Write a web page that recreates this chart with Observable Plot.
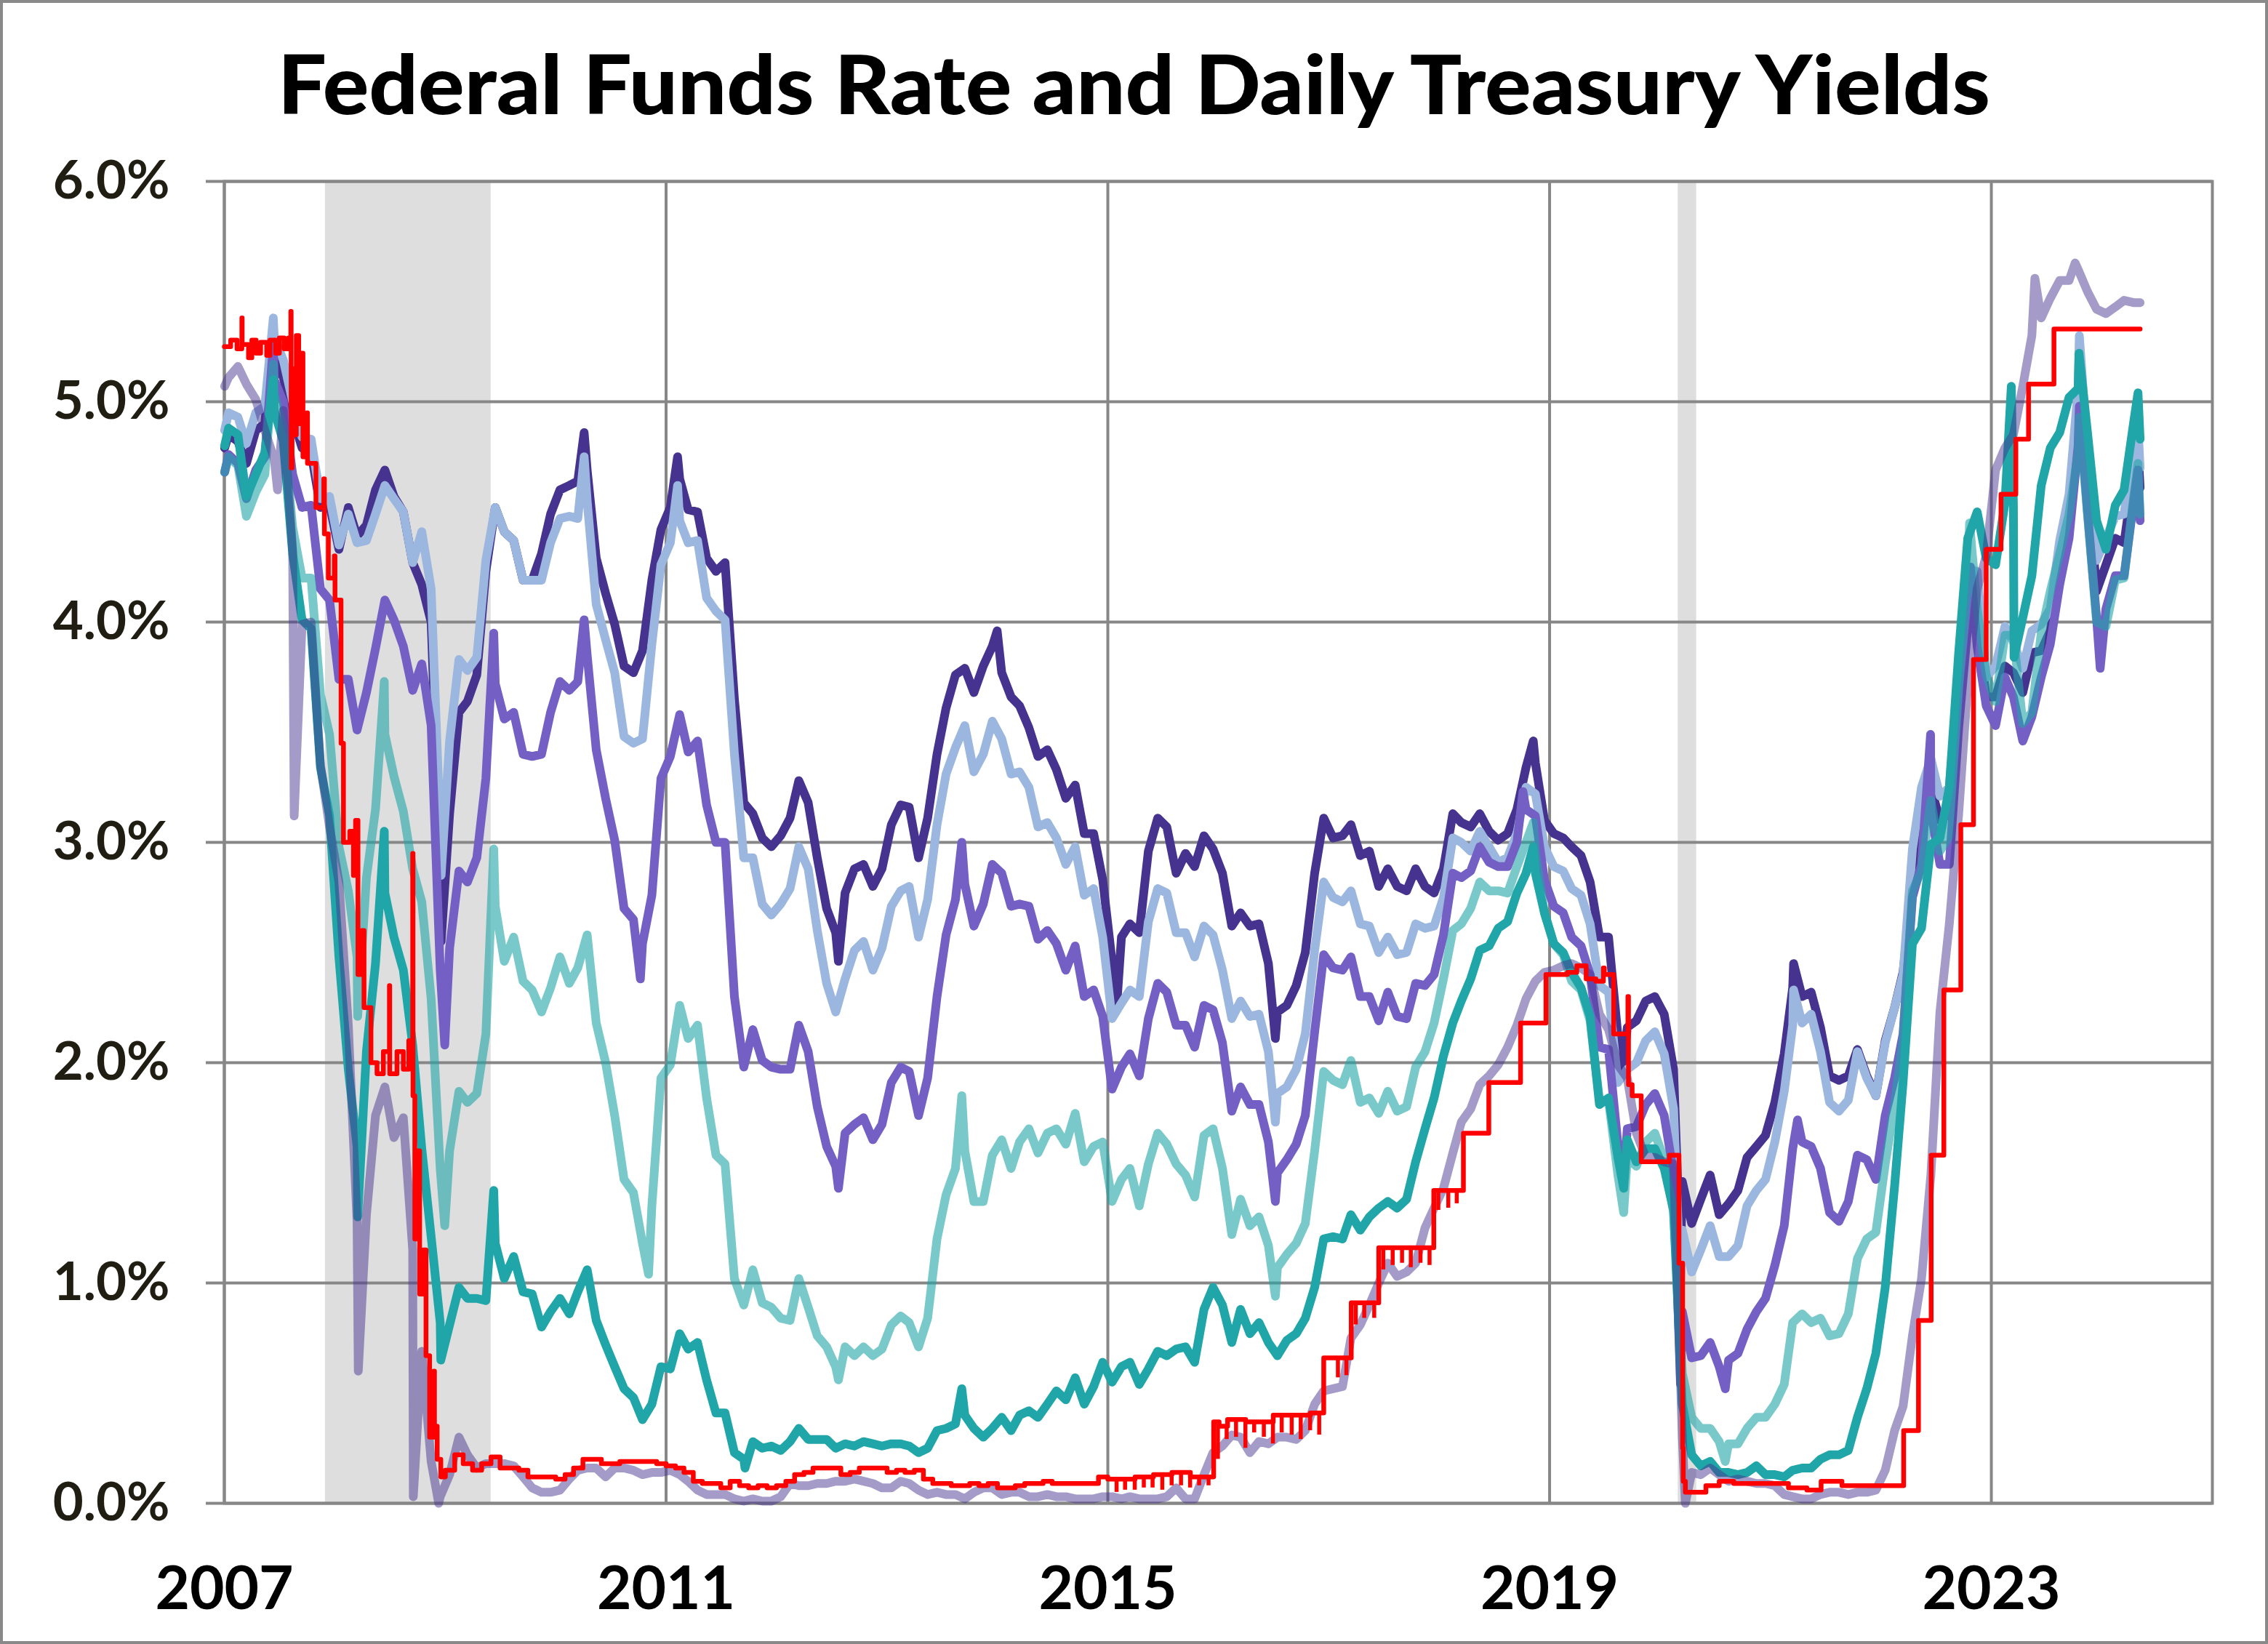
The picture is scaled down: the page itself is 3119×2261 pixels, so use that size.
<!DOCTYPE html>
<html>
<head>
<meta charset="utf-8">
<script src="https://cdn.jsdelivr.net/npm/d3@7"></script>
<script src="https://cdn.jsdelivr.net/npm/@observablehq/plot@0.6"></script>
<style>
  html, body { margin:0; padding:0; background:#fff; width:3119px; height:2261px; overflow:hidden; }
  #page { position:relative; width:3119px; height:2261px; background:#fff; }
  #border { position:absolute; left:0; top:0; width:3119px; height:2261px; box-sizing:border-box; border:4px solid #898989; pointer-events:none; }
  #title, #chart svg { display:block; }
</style>
</head>
<body>
<div id="page">
  <svg id="title" width="3119" height="200">
    <text x="1559.5" y="157" text-anchor="middle" font-family="Lato, 'Open Sans', sans-serif" font-weight="900" font-size="112" fill="#000" textLength="2355" lengthAdjust="spacingAndGlyphs">Federal Funds Rate and Daily Treasury Yields</text>
  </svg>
  <div id="chart"></div>
  <div id="border"></div>
</div>
<script>
// ---------------- DATA ----------------
// Monthly levels (mid-month), Jan 2007 .. Apr 2024
const t30 = [
4.85,4.82,4.72,4.87,4.90,5.20,5.11,4.93,4.79,4.77,4.52,4.53,
4.33,4.52,4.39,4.44,4.60,4.69,4.57,4.50,4.27,4.17,4.00,2.87,
3.13,3.59,3.64,3.76,4.23,4.52,4.41,4.37,4.19,4.19,4.31,4.49,
4.60,4.62,4.64,4.69,4.29,4.13,3.99,3.80,3.77,3.87,4.19,4.42,
4.52,4.65,4.51,4.50,4.29,4.23,4.27,3.65,3.18,3.13,3.02,2.98,
3.03,3.11,3.28,3.18,2.93,2.70,2.59,2.77,2.88,2.90,2.80,2.88,
3.08,3.17,3.16,2.93,3.11,3.40,3.61,3.76,3.79,3.68,3.80,3.89,
3.77,3.66,3.62,3.52,3.39,3.42,3.33,3.20,3.26,3.04,3.04,2.83,
2.46,2.57,2.63,2.59,2.96,3.11,3.07,2.86,2.95,2.89,3.03,2.97,
2.86,2.62,2.68,2.62,2.63,2.45,2.23,2.26,2.35,2.50,2.86,3.11,
3.02,3.03,3.08,2.94,2.96,2.80,2.88,2.80,2.78,2.88,2.80,2.77,
2.88,3.13,3.09,3.07,3.13,3.05,3.01,3.04,3.15,3.34,3.36,3.10,
3.04,3.02,2.98,2.94,2.82,2.57,2.57,2.12,2.16,2.19,2.28,2.30,
2.22,1.97,1.46,1.27,1.38,1.49,1.31,1.36,1.42,1.57,1.62,1.67,
1.82,2.04,2.34,2.30,2.32,2.16,1.94,1.92,1.94,2.06,1.94,1.85,
2.10,2.25,2.41,2.81,3.07,3.25,3.10,3.13,3.56,4.04,4.00,3.66,
3.66,3.80,3.77,3.68,3.86,3.87,3.96,4.28,4.47,4.95,4.66,4.14,
4.26,4.38,4.36,4.66];
const t20 = [
4.95,4.93,4.81,4.95,4.98,5.29,5.19,5.00,4.84,4.83,4.56,4.57,
4.35,4.49,4.36,4.37,4.49,4.62,4.56,4.50,4.27,4.41,4.15,3.06,
3.46,3.83,3.78,3.84,4.28,4.52,4.41,4.37,4.19,4.19,4.19,4.36,
4.47,4.48,4.47,4.55,4.08,3.92,3.77,3.48,3.45,3.47,3.90,4.26,
4.36,4.46,4.36,4.37,4.11,4.05,4.01,3.40,2.93,2.93,2.72,2.67,
2.72,2.79,2.98,2.88,2.60,2.36,2.23,2.38,2.51,2.55,2.42,2.52,
2.71,2.78,2.80,2.57,2.74,3.08,3.31,3.43,3.53,3.32,3.40,3.55,
3.47,3.31,3.32,3.25,3.07,3.09,3.02,2.90,2.98,2.76,2.79,2.57,
2.20,2.27,2.33,2.30,2.64,2.79,2.77,2.59,2.59,2.48,2.62,2.58,
2.42,2.20,2.28,2.21,2.22,2.05,1.86,1.89,1.97,2.13,2.51,2.82,
2.75,2.73,2.78,2.63,2.62,2.50,2.57,2.49,2.50,2.63,2.61,2.62,
2.75,3.02,3.00,2.96,3.05,2.98,2.91,2.93,3.04,3.25,3.22,2.98,
2.89,2.87,2.79,2.76,2.63,2.35,2.32,1.91,1.97,2.00,2.10,2.14,
2.04,1.79,1.24,1.05,1.15,1.26,1.12,1.12,1.17,1.35,1.42,1.47,
1.64,1.87,2.17,2.18,2.22,2.05,1.82,1.78,1.83,2.05,1.93,1.85,
2.09,2.25,2.40,2.97,3.25,3.38,3.21,3.25,3.76,4.24,4.23,3.75,
3.80,3.98,3.91,3.79,3.96,3.99,4.06,4.37,4.58,5.06,4.78,4.28,
4.38,4.48,4.49,4.79];
const t10 = [
4.76,4.72,4.56,4.69,4.75,5.10,5.00,4.67,4.52,4.53,4.15,4.10,
3.74,3.74,3.51,3.68,3.88,4.10,4.01,3.89,3.69,3.81,3.53,2.42,
2.52,2.87,2.82,2.93,3.29,3.72,3.56,3.59,3.40,3.39,3.40,3.59,
3.73,3.69,3.73,3.85,3.42,3.20,3.01,2.70,2.65,2.54,2.76,3.29,
3.39,3.58,3.41,3.46,3.17,3.00,3.00,2.30,1.98,2.15,2.01,1.98,
1.97,1.97,2.17,2.05,1.80,1.62,1.53,1.68,1.72,1.75,1.65,1.72,
1.91,1.98,1.96,1.76,1.93,2.30,2.58,2.74,2.81,2.62,2.72,2.90,
2.86,2.71,2.72,2.71,2.56,2.60,2.54,2.42,2.53,2.30,2.33,2.21,
1.88,1.98,2.04,1.94,2.20,2.36,2.32,2.17,2.17,2.07,2.26,2.24,
2.09,1.78,1.89,1.81,1.81,1.64,1.50,1.56,1.63,1.76,2.14,2.49,
2.43,2.42,2.48,2.30,2.30,2.19,2.32,2.21,2.20,2.36,2.35,2.40,
2.58,2.86,2.84,2.87,2.98,2.91,2.89,2.89,3.00,3.15,3.12,2.83,
2.71,2.68,2.57,2.53,2.40,2.07,2.06,1.63,1.70,1.71,1.81,1.86,
1.76,1.50,0.87,0.66,0.67,0.73,0.62,0.65,0.68,0.79,0.87,0.93,
1.08,1.26,1.61,1.64,1.62,1.52,1.32,1.28,1.37,1.58,1.56,1.47,
1.76,1.93,2.13,2.75,2.90,3.14,2.90,2.90,3.52,3.98,3.89,3.62,
3.53,3.75,3.66,3.46,3.57,3.75,3.90,4.17,4.38,4.80,4.50,4.02,
4.06,4.21,4.21,4.54];
const t5 = [
4.75,4.71,4.48,4.59,4.67,5.03,4.88,4.43,4.20,4.20,3.67,3.49,
2.98,2.78,2.48,2.84,3.15,3.49,3.30,3.14,2.88,2.73,2.29,1.52,
1.60,1.87,1.82,1.86,2.13,2.71,2.46,2.57,2.37,2.33,2.23,2.34,
2.48,2.36,2.43,2.58,2.18,2.00,1.76,1.47,1.41,1.18,1.35,1.93,
1.99,2.26,2.11,2.17,1.84,1.58,1.54,1.02,0.90,1.06,0.91,0.89,
0.84,0.83,1.02,0.89,0.76,0.71,0.62,0.71,0.67,0.71,0.67,0.70,
0.81,0.85,0.82,0.71,0.84,1.20,1.40,1.52,1.60,1.37,1.37,1.58,
1.65,1.52,1.64,1.70,1.59,1.68,1.70,1.63,1.77,1.55,1.62,1.64,
1.37,1.47,1.52,1.35,1.54,1.68,1.63,1.54,1.49,1.39,1.67,1.70,
1.52,1.22,1.38,1.26,1.30,1.17,1.07,1.13,1.18,1.27,1.60,1.96,
1.92,1.90,2.01,1.82,1.84,1.77,1.87,1.78,1.80,1.98,2.05,2.18,
2.38,2.60,2.63,2.70,2.82,2.78,2.78,2.77,2.89,3.00,2.95,2.68,
2.54,2.49,2.37,2.33,2.19,1.83,1.83,1.49,1.57,1.53,1.64,1.68,
1.56,1.32,0.59,0.39,0.34,0.34,0.28,0.27,0.27,0.34,0.39,0.39,
0.45,0.54,0.82,0.86,0.82,0.84,0.76,0.77,0.86,1.11,1.20,1.23,
1.54,1.81,2.11,2.78,2.87,3.19,2.96,3.03,3.70,4.18,4.06,3.76,
3.64,3.94,3.94,3.54,3.59,3.95,4.14,4.31,4.49,4.77,4.49,4.00,
3.98,4.19,4.20,4.56];
const t2 = [
4.88,4.85,4.57,4.67,4.77,4.96,4.82,4.31,4.01,3.97,3.34,3.12,
2.48,1.97,1.62,2.05,2.45,2.77,2.57,2.42,2.08,1.61,1.21,0.82,
0.81,0.98,0.93,0.93,0.92,1.18,1.02,1.12,0.96,0.95,0.80,0.87,
0.93,0.86,0.96,1.06,0.83,0.72,0.62,0.52,0.48,0.38,0.45,0.62,
0.61,0.77,0.70,0.73,0.56,0.41,0.41,0.23,0.20,0.28,0.25,0.26,
0.24,0.28,0.34,0.29,0.29,0.29,0.25,0.27,0.26,0.28,0.27,0.26,
0.27,0.27,0.26,0.23,0.25,0.33,0.34,0.36,0.40,0.34,0.30,0.34,
0.39,0.33,0.40,0.42,0.39,0.45,0.51,0.47,0.57,0.45,0.53,0.64,
0.55,0.62,0.64,0.54,0.61,0.69,0.67,0.70,0.71,0.64,0.88,0.98,
0.90,0.73,0.88,0.77,0.82,0.73,0.67,0.74,0.77,0.84,0.98,1.20,
1.21,1.20,1.31,1.24,1.30,1.34,1.37,1.34,1.38,1.55,1.70,1.84,
2.03,2.18,2.28,2.38,2.51,2.53,2.61,2.64,2.77,2.86,2.86,2.68,
2.54,2.50,2.41,2.34,2.21,1.81,1.84,1.57,1.65,1.55,1.61,1.61,
1.52,1.33,0.45,0.22,0.17,0.19,0.14,0.14,0.13,0.14,0.17,0.13,
0.13,0.12,0.15,0.16,0.16,0.20,0.22,0.22,0.24,0.39,0.52,0.68,
0.98,1.44,1.91,2.54,2.61,2.99,3.02,3.25,3.86,4.38,4.50,4.29,
4.26,4.54,4.53,4.02,4.21,4.62,4.79,4.86,5.02,5.06,4.86,4.46,
4.33,4.53,4.60,4.90];
const t3m = [
5.11,5.16,5.08,5.01,4.87,4.74,4.96,4.32,3.99,4.00,3.35,3.07,
2.82,2.17,1.28,1.31,1.76,1.89,1.66,1.75,1.15,0.69,0.19,0.03,
0.13,0.30,0.22,0.16,0.18,0.18,0.18,0.17,0.12,0.07,0.05,0.05,
0.06,0.11,0.15,0.16,0.16,0.12,0.16,0.16,0.15,0.13,0.14,0.14,
0.15,0.13,0.10,0.06,0.04,0.04,0.04,0.02,0.01,0.02,0.01,0.01,
0.03,0.09,0.08,0.08,0.09,0.09,0.10,0.10,0.11,0.10,0.09,0.07,
0.07,0.10,0.09,0.06,0.04,0.05,0.04,0.04,0.02,0.05,0.07,0.07,
0.04,0.05,0.05,0.03,0.03,0.04,0.03,0.03,0.02,0.02,0.02,0.03,
0.03,0.02,0.03,0.02,0.02,0.02,0.03,0.07,0.02,0.02,0.13,0.23,
0.26,0.31,0.30,0.23,0.28,0.27,0.30,0.30,0.29,0.33,0.45,0.51,
0.52,0.53,0.75,0.81,0.90,1.00,1.09,1.03,1.05,1.09,1.25,1.34,
1.43,1.59,1.73,1.79,1.90,1.94,1.99,2.07,2.17,2.29,2.37,2.41,
2.42,2.44,2.45,2.43,2.40,2.22,2.15,1.99,1.93,1.68,1.57,1.57,
1.55,1.54,0.30,0.14,0.13,0.16,0.13,0.10,0.11,0.10,0.09,0.09,
0.08,0.04,0.03,0.02,0.02,0.04,0.05,0.05,0.04,0.05,0.05,0.06,
0.15,0.33,0.44,0.76,1.02,1.49,2.23,2.63,3.13,3.72,4.15,4.30,
4.69,4.79,4.85,5.07,5.30,5.38,5.47,5.55,5.55,5.60,5.50,5.42,
5.40,5.43,5.46,5.45];

// Individual daily readings (extremes, first and last days)
const t30x = [["2007-01-02",4.79],["2007-06-12",5.35],["2008-12-18",2.55],["2010-04-05",4.86],["2011-02-08",4.75],["2012-07-24",2.46],["2013-12-31",3.96],["2015-01-30",2.25],["2016-07-08",2.11],["2018-11-08",3.46],["2019-08-28",1.94],["2020-03-09",1.10],["2021-03-18",2.45],["2023-10-19",5.11],["2024-04-30",4.79],["2024-05-07",4.61]];
const t20x = [["2007-01-02",4.87],["2007-06-12",5.38],["2008-12-18",2.85],["2010-04-05",4.75],["2011-02-08",4.62],["2016-07-08",1.73],["2020-03-09",0.99],["2021-03-18",2.33],["2023-10-19",5.30],["2024-04-30",4.89],["2024-05-07",4.70]];
const t10x = [["2007-01-02",4.68],["2007-06-12",5.26],["2008-12-30",2.08],["2009-06-10",3.95],["2010-04-05",4.01],["2010-10-08",2.38],["2012-07-24",1.43],["2013-09-05",3.00],["2016-07-08",1.37],["2018-10-05",3.23],["2019-09-03",1.47],["2020-03-09",0.54],["2020-08-04",0.52],["2021-03-31",1.74],["2022-06-14",3.49],["2022-10-24",4.25],["2023-10-19",4.98],["2023-12-27",3.79],["2024-04-30",4.69],["2024-05-07",4.46]];
const t5x = [["2007-01-02",4.68],["2007-06-12",5.17],["2008-03-17",2.21],["2008-06-13",3.73],["2008-12-30",1.26],["2009-06-10",2.97],["2010-11-04",1.04],["2012-07-24",0.56],["2013-09-05",1.85],["2016-07-08",0.94],["2018-11-08",3.09],["2019-09-03",1.32],["2020-08-04",0.19],["2022-10-21",4.45],["2023-10-19",4.93],["2024-04-30",4.72],["2024-05-07",4.49]];
const t2x = [["2007-01-02",4.80],["2007-06-12",5.10],["2008-03-17",1.30],["2008-06-13",3.05],["2008-12-17",0.65],["2009-06-10",1.42],["2011-09-19",0.16],["2013-09-05",0.52],["2018-11-08",2.98],["2019-09-03",1.43],["2023-03-08",5.07],["2023-03-17",3.84],["2023-10-18",5.22],["2024-04-30",5.04],["2024-05-07",4.83]];
const t3mx = [["2007-01-02",5.07],["2007-06-26",4.60],["2007-08-20",3.12],["2008-03-19",0.60],["2008-09-17",0.03],["2008-12-10",0.00],["2020-03-25",0.00],["2023-05-25",5.56],["2023-10-05",5.63],["2024-05-07",5.45]];

// Effective federal funds rate: step changes 2007-2008
const ffEarly = [["2007-01-01",5.25],["2007-01-22",5.28],["2007-02-12",5.24],["2007-02-28",5.38],["2007-03-01",5.26],["2007-03-22",5.20],["2007-04-02",5.28],["2007-04-16",5.22],["2007-05-01",5.27],["2007-05-21",5.21],["2007-06-01",5.28],["2007-06-20",5.22],["2007-07-02",5.29],["2007-07-18",5.24],["2007-08-01",5.29],["2007-08-09",5.41],["2007-08-10",4.70],["2007-08-13",5.15],["2007-08-20",4.85],["2007-08-27",5.30],["2007-09-04",4.90],["2007-09-10",5.22],["2007-09-18",4.75],["2007-10-01",4.95],["2007-10-03",4.72],["2007-10-31",4.52],["2007-11-26",4.65],["2007-11-28",4.40],["2007-12-11",4.20],["2007-12-31",4.30],["2008-01-02",4.10],["2008-01-22",3.45],["2008-01-30",3.00],["2008-02-20",3.05],["2008-03-03",2.85],["2008-03-10",3.10],["2008-03-18",2.40],["2008-03-31",2.60],["2008-04-07",2.25],["2008-04-30",2.00],["2008-05-20",1.95],["2008-06-10",2.05],["2008-06-30",2.35],["2008-07-01",1.95],["2008-07-25",2.05],["2008-08-15",1.97],["2008-09-02",2.10],["2008-09-15",2.95],["2008-09-16",1.85],["2008-09-22",1.20],["2008-09-30",1.60],["2008-10-08",0.95],["2008-10-20",1.15],["2008-10-29",0.67],["2008-11-10",0.30],["2008-11-24",0.60],["2008-11-26",0.35],["2008-12-05",0.20],["2008-12-17",0.12]];
// monthly levels Jan 2009 .. Nov 2015
const ffMonthly = [
0.15,0.22,0.18,0.15,0.18,0.21,0.16,0.16,0.15,0.12,0.12,0.12,
0.11,0.13,0.16,0.20,0.20,0.18,0.18,0.19,0.19,0.19,0.19,0.18,
0.17,0.16,0.14,0.10,0.09,0.09,0.07,0.10,0.08,0.07,0.08,0.07,
0.08,0.10,0.13,0.14,0.16,0.16,0.16,0.13,0.14,0.16,0.16,0.16,
0.14,0.15,0.14,0.15,0.11,0.09,0.09,0.08,0.08,0.09,0.08,0.09,
0.07,0.07,0.08,0.09,0.09,0.10,0.09,0.09,0.09,0.09,0.09,0.12,
0.11,0.11,0.11,0.12,0.12,0.13,0.13,0.14,0.14,0.12,0.12];
const ffLate = [["2015-12-17",0.37],["2016-01-04",0.35],["2016-02-01",0.38],["2016-04-01",0.37],["2016-07-01",0.40],["2016-11-01",0.41],["2016-12-15",0.66],["2017-03-16",0.91],["2017-06-15",1.16],["2017-12-14",1.42],["2018-03-22",1.68],["2018-06-14",1.91],["2018-09-27",2.18],["2018-12-20",2.40],["2019-03-01",2.41],["2019-04-01",2.44],["2019-05-02",2.38],["2019-06-03",2.37],["2019-06-28",2.43],["2019-07-01",2.40],["2019-08-01",2.13],["2019-09-17",2.30],["2019-09-19",1.90],["2019-10-01",1.85],["2019-10-31",1.55],["2020-02-01",1.58],["2020-03-04",1.09],["2020-03-16",0.25],["2020-03-18",0.10],["2020-03-25",0.05],["2020-06-01",0.08],["2020-07-15",0.10],["2020-09-01",0.09],["2021-03-01",0.07],["2021-05-01",0.06],["2021-06-17",0.10],["2021-08-25",0.08],["2022-03-17",0.33],["2022-05-05",0.83],["2022-06-16",1.58],["2022-07-28",2.33],["2022-09-22",3.08],["2022-11-03",3.83],["2022-12-15",4.33],["2023-02-02",4.58],["2023-03-23",4.83],["2023-05-04",5.08],["2023-07-27",5.33],["2024-05-07",5.33]];
// month-end dips of the effective rate
const ffDips = [["2015-01-30",0.05],["2015-02-27",0.06],["2015-03-31",0.06],["2015-04-30",0.07],["2015-05-29",0.07],["2015-06-30",0.06],["2015-07-31",0.08],["2015-08-31",0.08],["2015-09-30",0.07],["2015-10-30",0.08],["2015-11-30",0.08],
["2015-12-31",0.20],["2016-01-29",0.29],["2016-02-29",0.30],["2016-03-31",0.25],["2016-04-29",0.32],["2016-05-31",0.30],["2016-06-30",0.27],["2016-07-29",0.32],["2016-08-31",0.31],["2016-09-30",0.29],["2016-10-31",0.33],["2016-11-30",0.31],
["2017-01-31",0.57],["2017-02-28",0.58],["2017-03-31",0.81],["2017-04-28",0.84],["2017-05-31",0.84],["2017-06-30",1.06],["2017-07-31",1.08],["2017-08-31",1.09],["2017-09-29",1.07],["2017-10-31",1.09],["2017-11-30",1.08],["2017-12-29",1.33],["2018-01-31",1.34],["2018-02-28",1.36]];

const recessions = [["2007-12-01","2009-06-01"],["2020-03-01","2020-05-01"]];
const yTicks = [0, 1, 2, 3, 4, 5, 6];
const xTickYears = [2007, 2011, 2015, 2019, 2023];

// ---------------- BUILD ----------------
const monthDates = t30.map((_, i) => d3.utcMonth.offset(new Date(Date.UTC(2007, 0, 15)), i));
function series(values, extras) {
  const pts = values.map((v, i) => ({date: monthDates[i], value: v}));
  for (const [d, v] of extras) pts.push({date: new Date(d), value: v});
  return pts.sort((a, b) => a.date - b.date);
}
const s30 = series(t30, t30x), s20 = series(t20, t20x), s10 = series(t10, t10x);
const s5 = series(t5, t5x), s2 = series(t2, t2x), s3m = series(t3m, t3mx);

const ff = [
  ...ffEarly.map(([d, v]) => ({date: new Date(d), value: v})),
  ...ffMonthly.map((v, i) => ({date: d3.utcMonth.offset(new Date(Date.UTC(2009, 0, 1)), i), value: v})),
  ...ffLate.map(([d, v]) => ({date: new Date(d), value: v}))
].sort((a, b) => a.date - b.date);
const bis = d3.bisector(d => d.date).right;
const dipData = ffDips.map(([d, low]) => {
  const date = new Date(d);
  return {date, low, level: ff[bis(ff, date) - 1].value};
});
const recData = recessions.map(([a, b]) => ({start: new Date(a), end: new Date(b)}));
const xTicks = xTickYears.map(y => new Date(Date.UTC(y, 0, 1)));

const GRID = "#878787";
const lineOpts = (color, extra = {}) => ({x: "date", y: "value", stroke: color, strokeWidth: 12, strokeLinejoin: "round", strokeLinecap: "round", ...extra});

const chart = Plot.plot({
  width: 3119,
  height: 2061,
  marginTop: 49,
  marginBottom: 194,
  marginLeft: 308,
  marginRight: 77,
  style: {fontFamily: "Lato, 'Open Sans', sans-serif", background: "#fff", overflow: "visible"},
  x: {type: "utc", domain: [new Date(Date.UTC(2007, 0, 1)), new Date(Date.UTC(2025, 0, 1))], label: null},
  y: {domain: [0, 6], label: null},
  marks: [
    Plot.rect(recData, {x1: "start", x2: "end", y1: 0, y2: 6, fill: "#dedede"}),
    Plot.gridY(yTicks, {stroke: GRID, strokeOpacity: 1, strokeWidth: 4}),
    Plot.gridX(xTicks, {stroke: GRID, strokeOpacity: 1, strokeWidth: 4}),
    Plot.frame({stroke: GRID, strokeWidth: 4}),
    Plot.line(s30, lineOpts("#46328f")),
    Plot.line(s20, lineOpts("#9cb7df")),
    Plot.line(s10, lineOpts("#7460c5")),
    Plot.line(s5, lineOpts("#20a5a8", {strokeOpacity: 0.6})),
    Plot.line(s2, lineOpts("#20a5a8")),
    Plot.line(s3m, lineOpts("#46328f", {strokeOpacity: 0.49})),
    Plot.ruleX(dipData, {x: "date", y1: "low", y2: "level", stroke: "#ff0000", strokeWidth: 5.5}),
    Plot.line(ff, {x: "date", y: "value", stroke: "#ff0000", strokeWidth: 6.5, curve: "step-after", strokeLinejoin: "round", strokeLinecap: "round"}),
    Plot.axisY(yTicks, {tickSize: 25, tickPadding: 50, tickFormat: d => d.toFixed(1) + "%", fontSize: 72.5, fontWeight: 700, fill: "#201d12", stroke: GRID, strokeWidth: 4, label: null}),
    Plot.axisX(xTicks, {tickSize: 0, tickPadding: 87, tickFormat: "%Y", fontSize: 82, fontWeight: 700, fill: "#000", label: null})
  ]
});
document.getElementById("chart").appendChild(chart);
</script>
</body>
</html>
